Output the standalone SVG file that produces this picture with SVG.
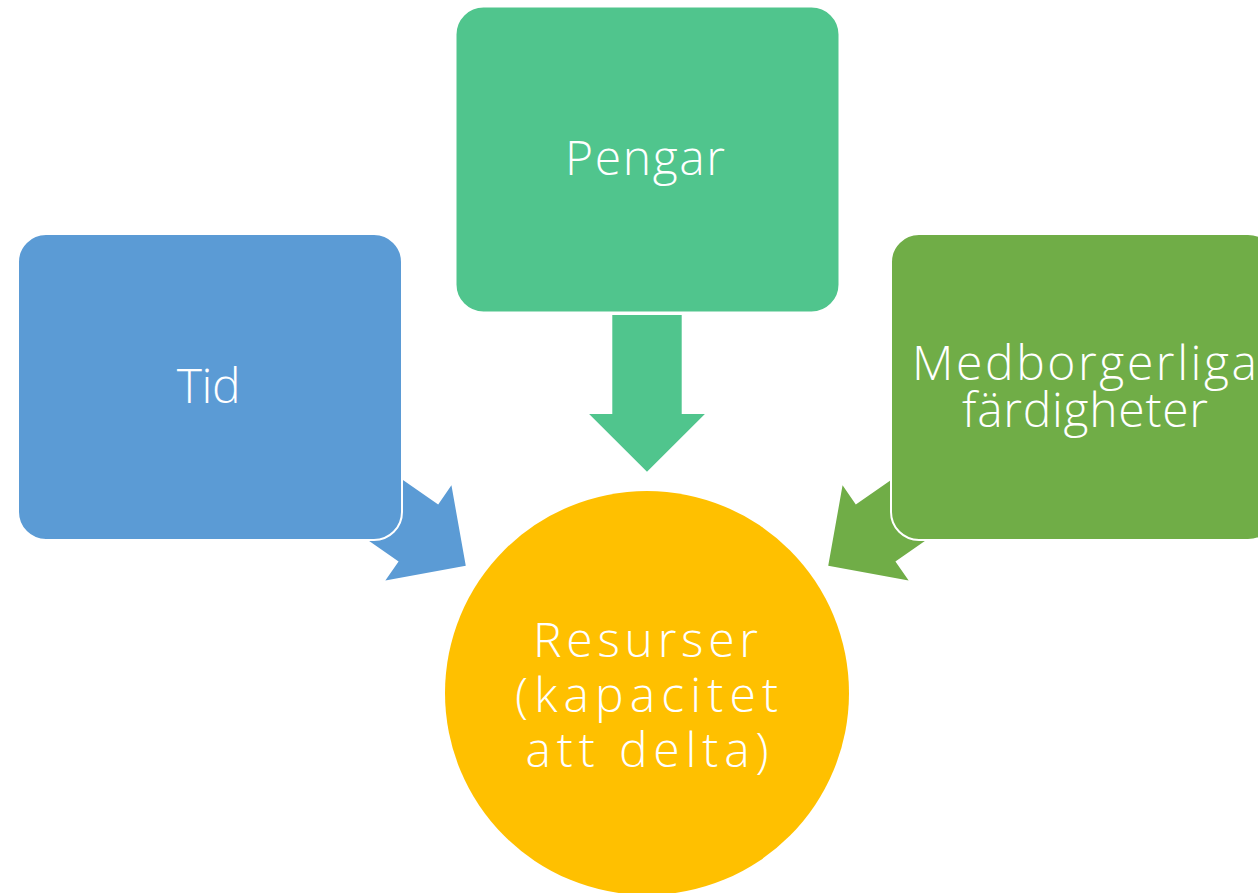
<svg xmlns="http://www.w3.org/2000/svg" width="1258" height="893" viewBox="0 0 1258 893">
<style>
.lbl{font-family:"Open Sans","Liberation Sans",sans-serif;font-weight:300;font-size:48px;fill:#ffffff;text-anchor:middle}
.box{stroke:#ffffff;stroke-width:2}
</style>
<defs>
<polygon id="arrowShape" points="-34.7,0 34.7,0 34.7,99 57.9,99 0,156.7 -57.9,99 -34.7,99"/>
</defs>
<rect width="1258" height="893" fill="#ffffff"/>
<g id="connectors">
<use href="#arrowShape" transform="translate(647,315)" fill="#50C58D"/>
<use href="#arrowShape" transform="translate(337.1,476.4) rotate(-55.2)" fill="#5B9BD5"/>
<use href="#arrowShape" transform="translate(956.9,476.4) rotate(55.2)" fill="#70AD47"/>
</g>
<g id="tid">
<rect class="box" x="18" y="234" width="384" height="306" rx="28" fill="#5B9BD5"/>
<text class="lbl" x="208.7" y="403" textLength="64" lengthAdjust="spacing">Tid</text>
</g>
<g id="pengar">
<rect class="box" x="455.5" y="6.5" width="384" height="306" rx="28" fill="#50C58D"/>
<text class="lbl" x="645" y="175" textLength="160" lengthAdjust="spacing">Pengar</text>
</g>
<g id="medborgerliga">
<rect class="box" x="891" y="234" width="385" height="306" rx="28" fill="#70AD47"/>
<text class="lbl" x="1084.5" y="380" textLength="345" lengthAdjust="spacing">Medborgerliga</text>
<text class="lbl" x="1085" y="427" textLength="246" lengthAdjust="spacing">färdigheter</text>
</g>
<g id="resurser">
<circle cx="647" cy="693" r="202" fill="#FFC000"/>
<text class="lbl" x="645.5" y="656.5" textLength="225" lengthAdjust="spacing">Resurser</text>
<text class="lbl" x="646.5" y="711.5" textLength="263" lengthAdjust="spacing">(kapacitet</text>
<text class="lbl" x="647" y="766.5" textLength="243" lengthAdjust="spacing">att delta)</text>
</g>
</svg>
